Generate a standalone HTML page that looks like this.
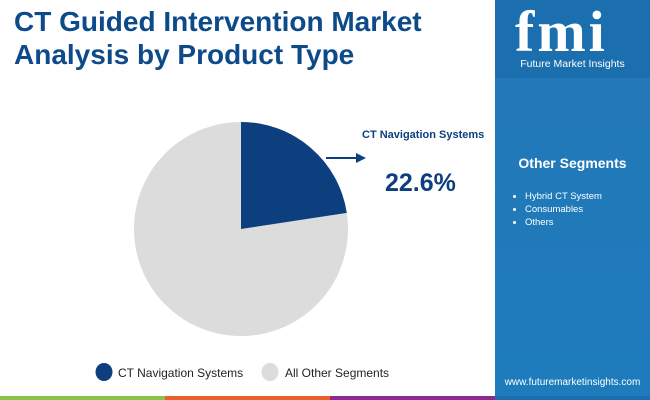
<!DOCTYPE html>
<html><head><style>
body{margin:0;width:650px;height:400px;overflow:hidden;background:#fff;font-family:"Liberation Sans",Arial,sans-serif;position:relative}
.t{position:absolute;left:14px;top:5px;font-size:28px;font-weight:bold;color:#0d4a8a;line-height:33px}
.panel{position:absolute;left:495px;top:0;width:155px;height:396px;background:#1b6fae}
.bar{position:absolute;top:396px;height:4px}
</style></head><body>
<div class="t">CT Guided Intervention Market<br>Analysis by Product Type</div>
<div class="panel">
<div style="position:absolute;left:0;top:0;width:155px;height:75px;background:#1b6fae"></div>
<div style="position:absolute;left:20px;top:2px;font-size:58px;font-weight:bold;color:#fff;font-family:'Liberation Serif',serif;letter-spacing:3px;line-height:60px">fmi</div>
<div style="position:absolute;left:0;width:155px;top:58px;text-align:center;font-size:10.5px;color:#fff">Future Market Insights</div>
<div style="position:absolute;left:0;top:78px;width:155px;height:318px;background:linear-gradient(#2278b8,#1e7cbd)"></div>
<div style="position:absolute;left:0;width:155px;top:155px;text-align:center;font-size:14px;font-weight:bold;color:#fff">Other Segments</div>
<ul style="position:absolute;left:10px;top:190px;margin:0;padding-left:20px;color:#fff;font-size:9.5px;line-height:13px">
<li>Hybrid CT System</li><li>Consumables</li><li>Others</li></ul>
<div style="position:absolute;left:0;width:155px;top:377px;text-align:center;font-size:10px;color:#fff">www.futuremarketinsights.com</div>
</div>
<svg style="position:absolute;left:0;top:0" width="495" height="396">
<circle cx="241" cy="229" r="107" fill="#dcdcdc"/>
<path d="M241,229 L241,122 A107,107 0 0,1 346.8,212.9 Z" fill="#0d3f7f"/>
<line x1="326" y1="158" x2="358" y2="158" stroke="#0d3f7f" stroke-width="2"/>
<polygon points="356,153 366,158 356,163" fill="#0d3f7f"/>
<text x="362" y="138" font-size="11" font-weight="bold" fill="#0d3f7f">CT Navigation Systems</text>
<text x="385" y="191" font-size="25" font-weight="bold" fill="#0d3f7f">22.6%</text>
<ellipse cx="104" cy="372" rx="8.5" ry="9" fill="#0d3f7f"/>
<text x="118" y="377" font-size="12" fill="#222">CT Navigation Systems</text>
<ellipse cx="270" cy="372" rx="8.5" ry="9" fill="#dcdcdc"/>
<text x="285" y="377" font-size="12" fill="#222">All Other Segments</text>
</svg>
<div class="bar" style="left:0;width:165px;background:#8bc34a"></div>
<div class="bar" style="left:165px;width:165px;background:#e8612c"></div>
<div class="bar" style="left:330px;width:165px;background:#8e2a8e"></div>
<div class="bar" style="left:495px;width:155px;background:#1b6fae"></div>
</body></html>
